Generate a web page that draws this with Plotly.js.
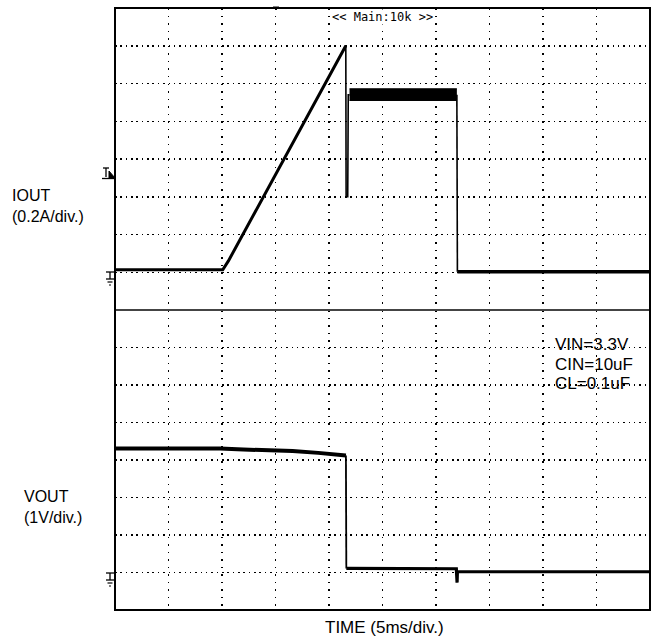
<!DOCTYPE html>
<html>
<head>
<meta charset="utf-8">
<script src="https://cdn.plot.ly/plotly-3.0.1.min.js"></script>
<style>html,body{margin:0;padding:0;background:#fff;}#chart{width:658px;height:640px;}</style>
</head>
<body>
<div id="chart"></div>
<script>
// ---- data (time in ms, 5 ms/div; IOUT in A; VOUT in V) ----
const rampTime = [0, 10.07, 10.60, 21.57];
const rampAmps = [0.013, 0.013, 0.060, 1.20];
const dropTime = [21.57, 21.60, 21.75, 21.80, 21.92];
const dropAmps = [1.20, 0.40, 0.40, 0.94, 0.94];
const bandTime = [21.92, 31.95];
const bandHigh = [0.972, 0.972];
const bandLow = [0.910, 0.910];
const fallTime = [31.95, 32.00];
const fallAmps = [0.94, 0.003];
const idleTime = [32.00, 50];
const idleAmps = [0.003, 0.003];
const vTime = [0, 9.8, 12.0, 16.6, 19.0, 21.4, 21.58];
const vVolts = [3.31, 3.31, 3.28, 3.24, 3.19, 3.13, 3.12];
const vDropTime = [21.58, 21.62];
const vDropVolts = [3.12, 0.11];
const vLowTime = [21.62, 31.90, 31.97, 32.00, 32.10, 50];
const vLowVolts = [0.11, 0.10, -0.27, 0.02, 0.02, 0.02];
const condLabels = ["VIN=3.3V", "CIN=10uF", "CL=0.1uF"];

// ---- geometry helpers (pixel -> paper) ----
const L = 115, R = 8, T = 8, B = 30, W = 658, H = 640;
const PW = W - L - R, PH = H - T - B;
const X = px => (px - L) / PW;
const Y = py => (H - B - py) / PH;
const SEP = Y(310);

function ln(x, y, ax, w) {
  return {x: x, y: y, xaxis: 'x', yaxis: ax, mode: 'lines', line: {color: '#000', width: w}, hoverinfo: 'skip'};
}
const bandLowTrace = ln(bandTime, bandLow, 'y', 1);
const bandHighTrace = Object.assign(ln(bandTime, bandHigh, 'y', 1), {fill: 'tonexty', fillcolor: '#000'});
const traces = [
  bandLowTrace, bandHighTrace,
  ln(rampTime, rampAmps, 'y', 3),
  ln(dropTime, dropAmps, 'y', 1.6),
  ln(fallTime, fallAmps, 'y', 1.6),
  ln(idleTime, idleAmps, 'y', 3.5),
  ln(vTime, vVolts, 'y2', 4),
  ln(vDropTime, vDropVolts, 'y2', 1.8),
  ln(vLowTime, vLowVolts, 'y2', 3.2)
];

const font = "Liberation Sans, Arial, sans-serif";
const shapes = [];
function seg(x0, y0, x1, y1, w, c) {
  shapes.push({type: 'line', xref: 'paper', yref: 'paper', x0: X(x0), y0: Y(y0), x1: X(x1), y1: Y(y1), line: {color: c || '#000', width: w || 1}});
}
function ground(py) {
  seg(106, py, 115, py, 1.3);
  seg(110, py, 110, py + 7, 1.3);
  seg(106, py + 7, 114, py + 7, 1.3);
  seg(107.5, py + 10, 112.5, py + 10, 1.2);
  seg(109, py + 13, 111, py + 13, 1.2);
}
ground(272);
ground(573);
// trigger level marker
seg(103, 168, 109, 168, 1.3);
seg(106, 168, 106, 177, 1.3);
seg(102, 178.5, 115, 178.5, 1.3);
shapes.push({type: 'path', xref: 'paper', yref: 'paper',
  path: `M ${X(109)} ${Y(171)} L ${X(115)} ${Y(178)} L ${X(109)} ${Y(178)} Z`, fillcolor: '#000', line: {color: '#000', width: 1}});
// small position marker on top border
shapes.push({type: 'path', xref: 'paper', yref: 'paper',
  path: `M ${X(273)} ${Y(7)} L ${X(279)} ${Y(7)} L ${X(276)} ${Y(10)} Z`, fillcolor: '#000', line: {color: '#000', width: 1}});
// separator and frame
shapes.push({type: 'line', xref: 'paper', yref: 'paper', x0: 0, x1: 1, y0: SEP, y1: SEP, line: {color: '#444', width: 2}});
shapes.push({type: 'rect', xref: 'paper', yref: 'paper', x0: 0, x1: 1, y0: 0, y1: 1, line: {color: '#000', width: 2}, fillcolor: 'rgba(0,0,0,0)'});

const annotations = [
  {text: '&lt;&lt; Main:10k &gt;&gt;', xref: 'paper', yref: 'paper', x: 0.5, y: Y(17), xanchor: 'center', yanchor: 'middle', showarrow: false,
   font: {family: 'DejaVu Sans Mono, monospace', size: 12, color: '#000'}, bgcolor: '#fff', borderpad: 0},
  {text: 'IOUT<br>(0.2A/div.)', xref: 'paper', yref: 'paper', x: X(10), y: Y(206), xanchor: 'left', yanchor: 'middle', align: 'left', showarrow: false,
   font: {family: font, size: 16, color: '#000'}},
  {text: 'VOUT<br>(1V/div.)', xref: 'paper', yref: 'paper', x: X(22), y: Y(507), xanchor: 'left', yanchor: 'middle', align: 'left', showarrow: false,
   font: {family: font, size: 16, color: '#000'}},
  {text: 'TIME (5ms/div.)', xref: 'paper', yref: 'paper', x: X(384), y: Y(627), xanchor: 'center', yanchor: 'middle', showarrow: false,
   font: {family: font, size: 17, color: '#000'}}
];
const condY = [345, 364, 383];
condLabels.forEach((t, i) => annotations.push({text: t, xref: 'paper', yref: 'paper', x: X(553), y: Y(condY[i]), xanchor: 'left', yanchor: 'middle',
  showarrow: false, font: {family: font, size: 17, color: '#000'}}));

const gridCommon = {showticklabels: false, ticks: '', zeroline: false, showline: false, fixedrange: true, gridcolor: '#000', gridwidth: 1.5};
const layout = {
  width: W, height: H,
  margin: {l: L, r: R, t: T, b: B, pad: 0},
  paper_bgcolor: '#fff', plot_bgcolor: '#fff',
  showlegend: false,
  xaxis: Object.assign({}, gridCommon, {range: [0, 50], tick0: 0, dtick: 5, anchor: 'y2', griddash: '1.5px,6.05px'}),
  yaxis: Object.assign({}, gridCommon, {domain: [SEP, 1], range: [-0.2, 1.4], tick0: 0, dtick: 0.2, anchor: 'x', griddash: '1.5px,3.85px'}),
  yaxis2: Object.assign({}, gridCommon, {domain: [0, SEP], range: [-1, 7], tick0: 0, dtick: 1, anchor: 'x', griddash: '1.5px,3.85px'}),
  shapes: shapes,
  annotations: annotations
};
Plotly.newPlot('chart', traces, layout, {displayModeBar: false, staticPlot: true});
</script>
</body>
</html>
